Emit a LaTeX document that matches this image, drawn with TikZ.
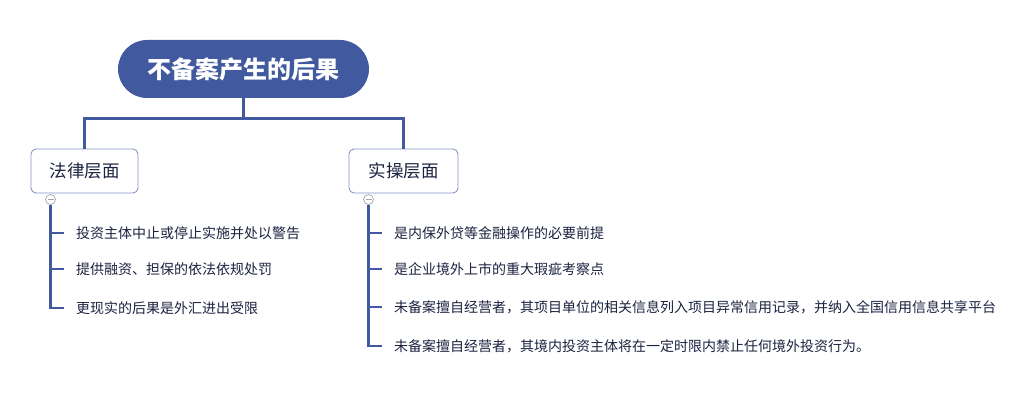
\documentclass[tikz,border=0pt]{standalone}
\usepackage{fontspec}
\setmainfont{Noto Sans CJK SC}
\usetikzlibrary{positioning}

\definecolor{rootblue}{HTML}{415A9F}
\definecolor{boxline}{HTML}{8595C6}
\definecolor{leaftext}{HTML}{1C2240}

\tikzset{
  root/.style={fill=rootblue, text=white, rounded corners=29pt, minimum width=251pt,
    minimum height=58pt, font=\fontsize{24}{27}\selectfont\bfseries},
  topic/.style={draw=boxline, line width=0.9pt, rounded corners=5pt, fill=white,
    text=leaftext, minimum height=44pt, font=\fontsize{17.5}{20}\selectfont},
  leaf/.style={anchor=west, inner xsep=12pt, text=leaftext, font=\fontsize{14}{16}\selectfont},
  link/.style={draw=rootblue, line width=3pt},
  sublink/.style={draw=rootblue, line width=2.5pt},
  fold/.style={circle, draw=gray!70, fill=white, line width=0.7pt, inner sep=0pt, minimum size=10pt}
}

\begin{document}
\begin{tikzpicture}[x=1pt, y=-1pt]
\useasboundingbox (0,0) rectangle (1032,409);

% main topic
\node[root] (main) at (243.5,69) {不备案产生的后果};

% sub topics
\node[topic, minimum width=107pt] (law) at (84.5,171) {法律层面};
\node[topic, minimum width=109pt] (op) at (403.5,171) {实操层面};

\coordinate (fork) at (243.5,118);
\draw[link] (main.south) -- (fork);
\draw[link] (law.north) |- (fork) -| (op.north);

% fold markers
\node[fold] (lawfold) at (50.5,199.5) {};
\node[fold] (opfold) at (368.5,199.5) {};
\draw[gray!70, line width=0.9pt] ([xshift=-3pt]lawfold.center) -- ([xshift=3pt]lawfold.center);
\draw[gray!70, line width=0.9pt] ([xshift=-3pt]opfold.center) -- ([xshift=3pt]opfold.center);

% leaves of the law topic
\node[leaf] (l1) at (64,233) {投资主体中止或停止实施并处以警告};
\node[leaf] (l2) at (64,269) {提供融资、担保的依法依规处罚};
\node[leaf] (l3) at (64,308) {更现实的后果是外汇进出受限};

\draw[sublink] (lawfold.south) |- (l3.west);
\foreach \n in {l1,l2}
  \draw[sublink] (lawfold.south |- \n.west) -- (\n.west);

% leaves of the operation topic
\node[leaf] (r1) at (382,233) {是内保外贷等金融操作的必要前提};
\node[leaf] (r2) at (382,269) {是企业境外上市的重大瑕疵考察点};
\node[leaf] (r3) at (382,307) {未备案擅自经营者，其项目单位的相关信息列入项目异常信用记录，并纳入全国信用信息共享平台};
\node[leaf] (r4) at (382,346) {未备案擅自经营者，其境内投资主体将在一定时限内禁止任何境外投资行为。};

\draw[sublink] (opfold.south) |- (r4.west);
\foreach \n in {r1,r2,r3}
  \draw[sublink] (opfold.south |- \n.west) -- (\n.west);

\end{tikzpicture}
\end{document}
